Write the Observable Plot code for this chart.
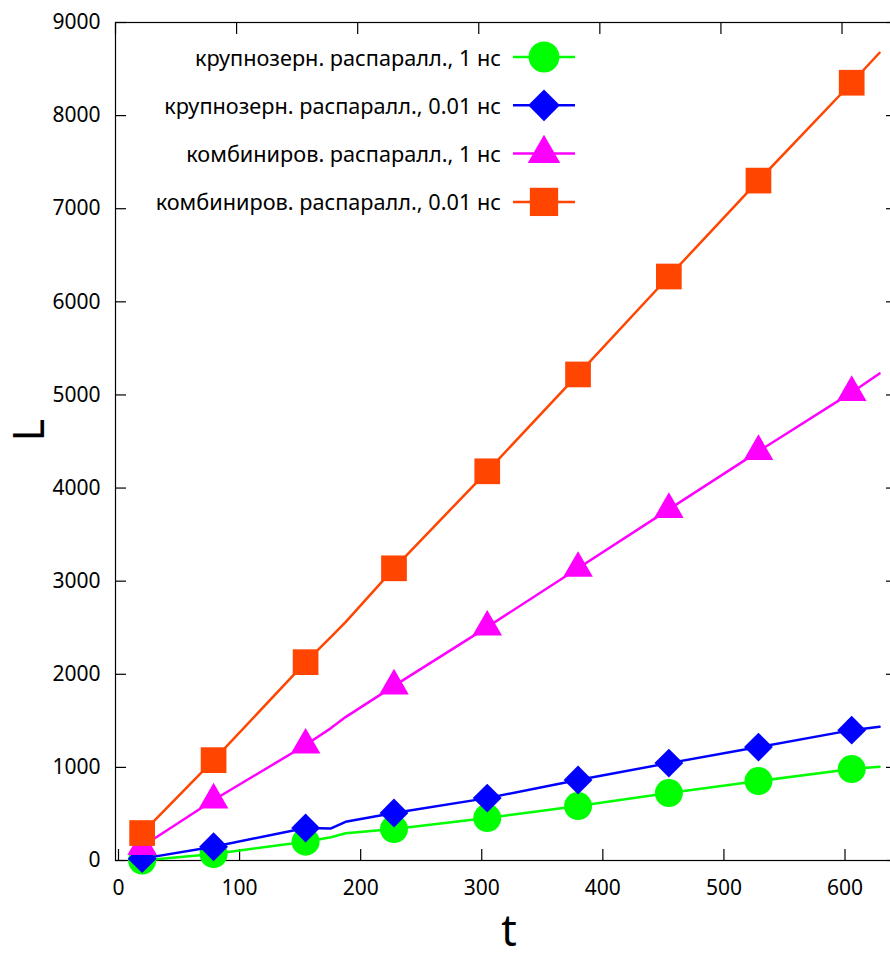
<!DOCTYPE html>
<html><head><meta charset="utf-8">
<script src="https://cdn.jsdelivr.net/npm/d3@7"></script>
<script src="https://cdn.jsdelivr.net/npm/@observablehq/plot@0.6"></script>
<style>
html,body{margin:0;padding:0;background:#fff;overflow:hidden;}
#chart{position:relative;width:890px;height:964px;overflow:hidden;}
</style></head><body><div id="chart"></div>
<script>
// ---- data ----
const seriesNames = [
  "крупнозерн. распаралл., 1 нс",
  "крупнозерн. распаралл., 0.01 нс",
  "комбиниров. распаралл., 1 нс",
  "комбиниров. распаралл., 0.01 нс"
];
const seriesColors = ["#00ff00", "#0000ff", "#ff00ff", "#ff4500"];
const seriesSymbols = ["circle", "diamond2", "triangle", "square"];
const symbolRadius = [14, 13, 11, 14.5];

const markerT = [22, 81, 157, 230, 307, 382, 457, 531, 608];
const greenMarkers   = [0, 70, 202, 338, 456, 585, 724, 853, 982];
const blueMarkers    = [20, 148, 349, 510, 670, 864, 1046, 1218, 1400];
const magentaMarkers = [150, 650, 1240, 1875, 2507, 3138, 3771, 4394, 5027];
const orangeMarkers  = [295, 1078, 2130, 3138, 4180, 5220, 6272, 7302, 8353];

// additional line vertices between/after markers
const extraT = [178, 190, 631];
const greenExtra   = [249, 292, 1006];
const blueExtra    = [345, 416, 1436];
const magentaExtra = [1422, 1540, 5231];
const orangeExtra  = [2401, 2560, 8675];

const xTicks = [0, 100, 200, 300, 400, 500, 600];
const yTicks = [0, 1000, 2000, 3000, 4000, 5000, 6000, 7000, 8000, 9000];
const xLabel = "t";
const yLabel = "L";

// ---- build tables ----
const markerSets = [greenMarkers, blueMarkers, magentaMarkers, orangeMarkers];
const extraSets = [greenExtra, blueExtra, magentaExtra, orangeExtra];
const lines = seriesNames.map((name, i) => {
  const pts = markerT.map((t, j) => ({t, v: markerSets[i][j], series: name}))
    .concat(extraT.map((t, j) => ({t, v: extraSets[i][j], series: name})));
  pts.sort((a, b) => a.t - b.t);
  return pts;
});
const markers = seriesNames.map((name, i) => markerT.map((t, j) => ({t, v: markerSets[i][j], series: name})));

const FONT = "Noto Sans";
const seriesMarks = [];
seriesNames.forEach((name, i) => {
  seriesMarks.push(Plot.line(lines[i], {x: "t", y: "v", stroke: seriesColors[i], strokeWidth: 2.5}));
  seriesMarks.push(Plot.dot(markers[i], {x: "t", y: "v", fill: seriesColors[i], stroke: "none", symbol: seriesSymbols[i], r: symbolRadius[i]}));
});

const fmt = d => String(d);
const chart = Plot.plot({
  width: 890, height: 964,
  marginLeft: 115, marginTop: 22, marginBottom: 104, marginRight: -6,
  x: {domain: [0, 645]},
  y: {domain: [0, 9000]},
  style: {fontFamily: FONT, fontSize: "21px", color: "#000", background: "white"},
  marks: [
    Plot.frame({stroke: "#000", strokeWidth: 1.2}),
    Plot.axisY({anchor: "left", ticks: yTicks, tickSize: -11, tickPadding: 26, tickFormat: fmt, label: null, strokeWidth: 1.2}),
    Plot.axisY({anchor: "right", ticks: yTicks, tickSize: -11, tickFormat: () => "", label: null, strokeWidth: 1.2}),
    Plot.axisX({anchor: "bottom", ticks: xTicks, tickSize: -11, tickPadding: 31, tickFormat: fmt, label: null, dx: 3, strokeWidth: 1.2}),
    Plot.axisX({anchor: "top", ticks: xTicks, tickSize: -11, tickFormat: () => "", label: null, strokeWidth: 1.2}),
    ...seriesMarks,
    Plot.text([yLabel], {frameAnchor: "left", dx: -85, rotate: -90, fontSize: 43, text: d => d}),
    Plot.text([xLabel], {frameAnchor: "bottom", dx: 3, dy: 85, fontSize: 43, text: d => d})
  ]
});
document.getElementById("chart").appendChild(chart);

// ---- legend (key) inside the plot, gnuplot style ----
const svg = d3.select(chart);
const key = svg.append("g").attr("font-family", FONT).attr("font-size", 21.7);
const symbolMap = {circle: d3.symbolCircle, diamond2: d3.symbolDiamond2, triangle: d3.symbolTriangle, square: d3.symbolSquare};
seriesNames.forEach((name, i) => {
  const cy = 57 + i * 48.3;
  key.append("text").attr("x", 501).attr("y", cy).attr("text-anchor", "end")
    .attr("dominant-baseline", "central").attr("fill", "#000").text(name);
  key.append("line").attr("x1", 513).attr("x2", 575).attr("y1", cy).attr("y2", cy)
    .attr("stroke", seriesColors[i]).attr("stroke-width", 2.5);
  const r = symbolRadius[i] * 1.1;
  key.append("path").attr("transform", `translate(544,${cy})`)
    .attr("d", d3.symbol(symbolMap[seriesSymbols[i]], r * r * Math.PI)())
    .attr("fill", seriesColors[i]);
});
</script>
</body></html>
